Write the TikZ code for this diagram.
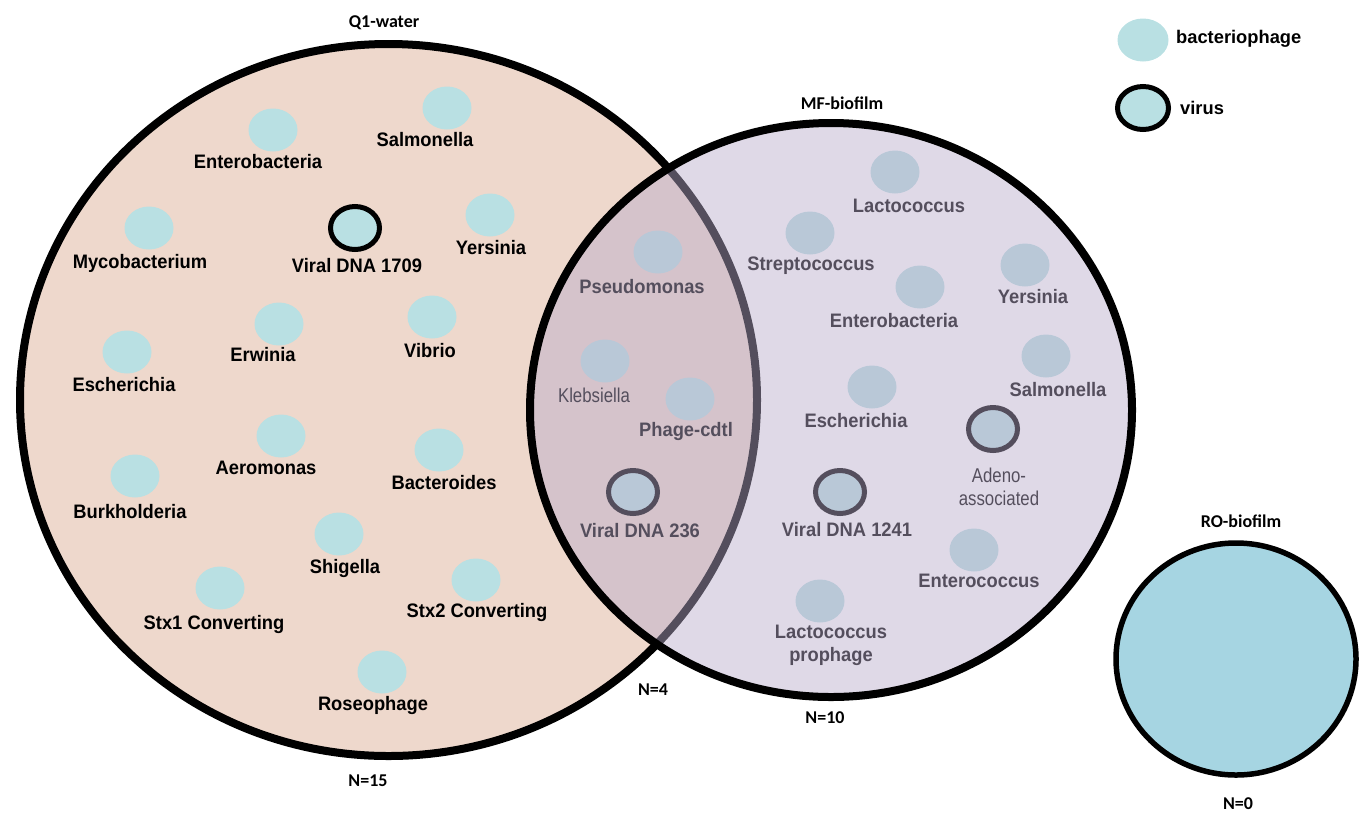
\documentclass[tikz,border=0pt]{standalone}
\usepackage{fontspec}
\usetikzlibrary{shapes.geometric}
\newfontfamily\lblfont{Liberation Sans}[FakeStretch=0.94]
\newfontfamily\narrowfont{Liberation Sans}[FakeStretch=0.84]
\newfontfamily\calfont{Carlito}
\newfontfamily\legfont{Liberation Sans}
\definecolor{qone}{RGB}{238,216,204}
\definecolor{bubcol}{RGB}{185,224,227}
\definecolor{mfcol}{RGB}{185,172,203}
\definecolor{rocol}{RGB}{166,213,226}
\begin{document}
\begin{tikzpicture}[x=1pt,y=-1pt,
  bub/.style={ellipse, fill=bubcol, minimum width=49pt, minimum height=43pt, inner sep=0pt},
  vir/.style={bub, draw=black, line width=5pt},
  lbl/.style={font={\lblfont\bfseries\fontsize{19.5}{23}\selectfont}, inner sep=0pt, align=center},
  lbln/.style={font={\narrowfont\fontsize{20}{23}\selectfont}, inner sep=0pt, align=center},
  ttl/.style={font={\calfont\bfseries\fontsize{18}{20}\selectfont}, inner sep=0pt},
  leg/.style={font={\legfont\bfseries\fontsize{18.3}{20}\selectfont}, inner sep=0pt, anchor=west},
]
\useasboundingbox (0,0) rectangle (1364,815);

% Q1 circle
\node[ellipse, fill=qone, draw=black, line width=8pt, minimum width=737pt, minimum height=712pt, inner sep=0pt] (q1) at (388.5,400) {};

% Q1 contents
\node[bub] (qb1) at (273,130) {};  \node[lbl] (ql1) at (258,162) {Enterobacteria};
\node[bub] (qb2) at (447,108) {};  \node[lbl] (ql2) at (425,140) {Salmonella};
\node[bub] (qb3) at (149,228) {};  \node[lbl] (ql3) at (140,263) {Mycobacterium};
\node[vir] (qv1) at (355,228) {};  \node[lbl] (qvl1) at (357,266) {Viral DNA 1709};
\node[bub] (qb4) at (490,215) {};  \node[lbl] (ql4) at (491,248) {Yersinia};
\node[bub] (qb5) at (279,324) {};  \node[lbl] (ql5) at (263,355) {Erwinia};
\node[bub] (qb6) at (432,317) {};  \node[lbl] (ql6) at (430,351) {Vibrio};
\node[bub] (qb7) at (127,352) {};  \node[lbl] (ql7) at (124,385) {Escherichia};
\node[bub] (qb8) at (281,436) {};  \node[lbl] (ql8) at (266,468) {Aeromonas};
\node[bub] (qb9) at (439,450) {};  \node[lbl] (ql9) at (444,483) {Bacteroides};
\node[bub] (qb10) at (135,476) {}; \node[lbl] (ql10) at (130,512) {Burkholderia};
\node[bub] (qb11) at (339,534) {}; \node[lbl] (ql11) at (345,568) {Shigella};
\node[bub] (qb12) at (220,588) {}; \node[lbl] (ql12) at (214,624) {Stx1 Converting};
\node[bub] (qb13) at (476,580) {}; \node[lbl] (ql13) at (477,612) {Stx2 Converting};
\node[bub] (qb14) at (382,672) {}; \node[lbl] (ql14) at (373,705) {Roseophage};

% MF contents (drawn beneath the translucent MF disc)
\node[bub] (mb1) at (658,252) {};  \node[lbl] (ml1) at (642,287) {Pseudomonas};
\node[bub] (mb2) at (605,361) {};  \node[lbln] (ml2) at (594,395) {Klebsiella};
\node[bub] (mb3) at (690,399) {};  \node[lbl] (ml3) at (686,431) {Phage-cdtl};
\node[vir] (mv1) at (633,492) {};  \node[lbl] (mvl1) at (640,531) {Viral DNA 236};
\node[bub] (mb4) at (895,172) {};  \node[lbl] (ml4) at (909,206) {Lactococcus};
\node[bub] (mb5) at (810,233) {};  \node[lbl] (ml5) at (811,266) {Streptococcus};
\node[bub] (mb6) at (920,287) {};  \node[lbl] (ml6) at (894,321) {Enterobacteria};
\node[bub] (mb7) at (1025,265) {}; \node[lbl] (ml7) at (1033,297) {Yersinia};
\node[bub] (mb8) at (1046,356) {}; \node[lbl] (ml8) at (1058,390) {Salmonella};
\node[bub] (mb9) at (872,387) {};  \node[lbl] (ml9) at (856,421) {Escherichia};
\node[vir] (mv2) at (993,429) {};  \node[lbln] (mvl2) at (999,487) {Adeno-\\associated};
\node[vir] (mv3) at (840,492) {};  \node[lbl] (mvl3) at (847,530) {Viral DNA 1241};
\node[bub] (mb10) at (974,550) {}; \node[lbl] (ml10) at (979,581) {Enterococcus};
\node[bub] (mb11) at (820,601) {}; \node[lbl] (ml11) at (831,645) {Lactococcus\\prophage};

% MF circle
\node[ellipse, fill=mfcol, fill opacity=0.46, draw=black, draw opacity=1, line width=8pt, minimum width=602pt, minimum height=574pt, inner sep=0pt] (mf) at (831,410) {};

% RO circle
\node[ellipse, fill=rocol, draw=black, line width=5.5pt, minimum width=240pt, minimum height=232pt, inner sep=0pt] (ro) at (1236,659) {};

% titles and counts
\node[ttl] (t1) at (384,23) {Q1-water};
\node[ttl] (t2) at (842,103) {MF-biofilm};
\node[ttl] (t3) at (1241,521) {RO-biofilm};
\node[ttl] (n1) at (368,781) {N=15};
\node[ttl] (n2) at (653,690) {N=4};
\node[ttl] (n3) at (825,718) {N=10};
\node[ttl] (n4) at (1238,804) {N=0};

% legend
\node[bub, minimum width=51pt] (lg1) at (1143,40) {};
\node[leg] (lgl1) at (1176,39) {bacteriophage};
\node[vir, minimum width=51pt] (lg2) at (1143,108) {};
\node[leg] (lgl2) at (1180,108) {virus};
\end{tikzpicture}
\end{document}
